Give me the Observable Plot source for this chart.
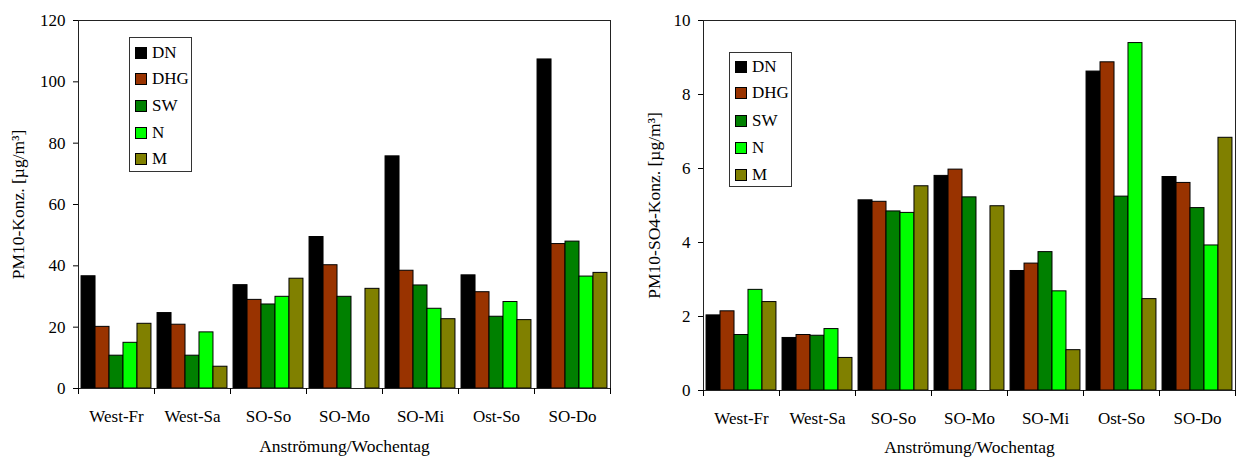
<!DOCTYPE html>
<html>
<head>
<meta charset="utf-8">
<script src="https://cdn.jsdelivr.net/npm/d3@7"></script>
<script src="https://cdn.jsdelivr.net/npm/@observablehq/plot@0.6"></script>
<style>
  html, body { margin: 0; padding: 0; background: #fff; }
  #wrap { position: relative; width: 1236px; height: 461px; overflow: hidden; font-family: "Liberation Serif", "Times New Roman", serif; }
  .chart { position: absolute; top: 0; }
  .legend { position: absolute; border: 1px solid #333; background: #fff; box-sizing: border-box; font-family: "Liberation Serif", "Times New Roman", serif; font-size: 17px; color: #000; }
  .legend .row { position: absolute; left: 0; height: 20px; display: flex; align-items: center; }
  .legend .sw { width: 10px; height: 10px; border: 1px solid #000; margin-left: 5px; margin-right: 5px; }
</style>
</head>
<body>
<div id="wrap"></div>
<script>
// ---- Data ----
const categories = ["West-Fr", "West-Sa", "SO-So", "SO-Mo", "SO-Mi", "Ost-So", "SO-Do"];
const seriesNames = ["DN", "DHG", "SW", "N", "M"];
const seriesColors = ["#000000", "#993300", "#008000", "#00ff00", "#808000"];

// Left chart: PM10 concentration [µg/m³]
const pm10DN  = [36.6, 24.6, 33.7, 49.4, 75.7, 36.9, 107.3];
const pm10DHG = [20.1, 20.8, 28.9, 40.2, 38.4, 31.4, 47.1];
const pm10SW  = [10.7, 10.7, 27.4, 29.9, 33.6, 23.4, 47.9];
const pm10N   = [14.9, 18.3, 29.9, null, 26.0, 28.2, 36.5];
const pm10M   = [21.1,  7.1, 35.8, 32.5, 22.6, 22.3, 37.7];

// Right chart: PM10-SO4 concentration [µg/m³]
const so4DN  = [2.03, 1.42, 5.14, 5.80, 3.23, 8.62, 5.77];
const so4DHG = [2.14, 1.50, 5.10, 5.97, 3.43, 8.87, 5.61];
const so4SW  = [1.50, 1.48, 4.84, 5.22, 3.74, 5.24, 4.93];
const so4N   = [2.72, 1.66, 4.80, null, 2.68, 9.39, 3.92];
const so4M   = [2.39, 0.88, 5.52, 4.98, 1.09, 2.47, 6.83];

const leftTicks = [0, 20, 40, 60, 80, 100, 120];
const rightTicks = [0, 2, 4, 6, 8, 10];

const xTitle = "Anströmung/Wochentag";
const leftYTitle = "PM10-Konz. [µg/m³]";
const rightYTitle = "PM10-SO4-Konz. [µg/m³]";

function toRows(arrays) {
  const rows = [];
  seriesNames.forEach((s, i) => {
    categories.forEach((c, j) => {
      const v = arrays[i][j];
      if (v != null) rows.push({cat: c, series: s, value: v});
    });
  });
  return rows;
}

function makeChart(opts) {
  const {width, height, ml, mr, mt, mb, rows, yMax, ticks, yTitle, yTitleDx, xTitleDy} = opts;
  const bw = (width - ml - mr) / categories.length;
  const groupW = bw * 0.92;
  const barW = groupW / seriesNames.length;
  const inset = (bw - barW) / 2;
  const fontFamily = "'Liberation Serif', 'Times New Roman', serif";
  const marks = [];
  seriesNames.forEach((s, i) => {
    marks.push(Plot.barY(rows.filter(r => r.series === s), {
      x: "cat", y: "value", fill: "series",
      stroke: "#000", strokeWidth: 1,
      insetLeft: inset, insetRight: inset,
      dx: -groupW / 2 + barW * (i + 0.5)
    }));
  });
  marks.push(Plot.frame({stroke: "#222", strokeWidth: 1}));
  marks.push(Plot.axisY({ticks, tickSize: 5, tickPadding: 8, fontSize: 17, fontFamily, label: null, stroke: "#000"}));
  marks.push(Plot.axisX({tickSize: 0, tickPadding: 21, fontSize: 17, fontFamily, label: null}));
  marks.push(Plot.axisX({tickSize: 6, tickFormat: () => "", dx: -bw / 2, label: null, stroke: "#000"}));
  marks.push(Plot.axisX({ticks: [categories[categories.length - 1]], tickSize: 6, tickFormat: () => "", dx: bw / 2, label: null, stroke: "#000"}));
  marks.push(Plot.text([yTitle], {text: d => d, frameAnchor: "left", textAnchor: "middle", rotate: -90, dx: yTitleDx, fontSize: 17.5, fontFamily, fill: "#000"}));
  marks.push(Plot.text([xTitle], {text: d => d, frameAnchor: "bottom", textAnchor: "middle", dy: xTitleDy, fontSize: 17.5, fontFamily, fill: "#000"}));
  return Plot.plot({
    width, height,
    marginLeft: ml, marginRight: mr, marginTop: mt, marginBottom: mb,
    style: {fontFamily, fontSize: "17px", color: "#000", background: "transparent"},
    x: {type: "band", domain: categories, padding: 0},
    y: {domain: [0, yMax]},
    color: {domain: seriesNames, range: seriesColors},
    marks
  });
}

function makeLegend(left, top, rowYs) {
  const div = document.createElement("div");
  div.className = "legend";
  div.style.left = left + "px";
  div.style.top = top + "px";
  div.style.width = "63px";
  div.style.height = "135px";
  seriesNames.forEach((s, i) => {
    const row = document.createElement("div");
    row.className = "row";
    row.style.top = (rowYs[i] - top - 11) + "px";
    const sw = document.createElement("div");
    sw.className = "sw";
    sw.style.background = seriesColors[i];
    const t = document.createElement("span");
    t.textContent = s;
    row.appendChild(sw);
    row.appendChild(t);
    div.appendChild(row);
  });
  return div;
}

const wrap = document.getElementById("wrap");

const left = makeChart({
  width: 618, height: 461, ml: 78, mr: 8, mt: 20, mb: 73,
  rows: toRows([pm10DN, pm10DHG, pm10SW, pm10N, pm10M]),
  yMax: 120, ticks: leftTicks, yTitle: leftYTitle, yTitleDx: -60, xTitleDy: 63
});
left.classList.add("chart");
left.style.left = "0px";
wrap.appendChild(left);

const right = makeChart({
  width: 618, height: 461, ml: 85, mr: 1, mt: 20, mb: 71,
  rows: toRows([so4DN, so4DHG, so4SW, so4N, so4M]),
  yMax: 10, ticks: rightTicks, yTitle: rightYTitle, yTitleDx: -49, xTitleDy: 62
});
right.classList.add("chart");
right.style.left = "618px";
wrap.appendChild(right);

wrap.appendChild(makeLegend(129, 37, [53, 79, 106, 133, 159]));
wrap.appendChild(makeLegend(729, 52, [67, 93, 121, 148, 175]));
</script>
</body>
</html>
